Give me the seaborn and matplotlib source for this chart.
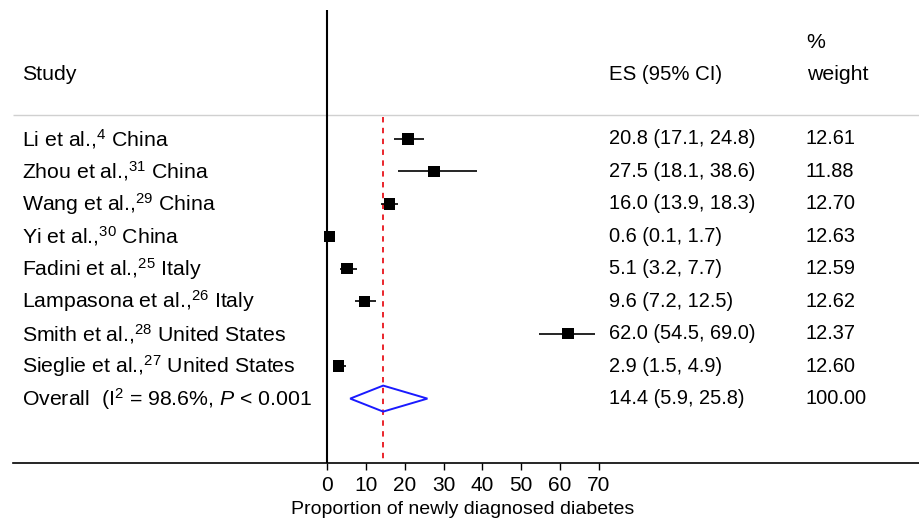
import matplotlib
matplotlib.use("Agg")
import matplotlib.pyplot as plt
import seaborn as sns
import numpy as np
import pandas as pd
from matplotlib.patches import Polygon

# ---- data ----
authors = ["Li et al.,", "Zhou et al.,", "Wang et al.,", "Yi et al.,", "Fadini et al.,",
           "Lampasona et al.,", "Smith et al.,", "Sieglie et al.,"]
refs = ["4", "31", "29", "30", "25", "26", "28", "27"]
countries = ["China", "China", "China", "China", "Italy", "Italy", "United States", "United States"]
es = [20.8, 27.5, 16.0, 0.6, 5.1, 9.6, 62.0, 2.9]
lo = [17.1, 18.1, 13.9, 0.1, 3.2, 7.2, 54.5, 1.5]
hi = [24.8, 38.6, 18.3, 1.7, 7.7, 12.5, 69.0, 4.9]
weights = [12.61, 11.88, 12.70, 12.63, 12.59, 12.62, 12.37, 12.60]
overall_es, overall_lo, overall_hi = 14.4, 5.9, 25.8
overall_weight = "100.00"
overall_label = r"Overall  (I$^{\mathrm{2}}$ = 98.6%, $\mathit{P}$ < 0.001"
xticks = [0, 10, 20, 30, 40, 50, 60, 70]
xlabel = "Proportion of newly diagnosed diabetes"

sns.set_style("white")
plt.rcParams["font.family"] = ["Liberation Sans", "DejaVu Sans"]
plt.rcParams["mathtext.fontset"] = "custom"
plt.rcParams["mathtext.rm"] = "Liberation Sans"
plt.rcParams["mathtext.it"] = "Liberation Sans:italic"
plt.rcParams["mathtext.bf"] = "Liberation Sans:bold"
plt.rcParams["text.color"] = "black"
plt.rcParams["axes.labelcolor"] = "black"
plt.rcParams["xtick.color"] = "black"

FS_L = 15.3   # study labels
FS_N = 14.4   # numeric columns
FS_T = 15.0   # tick labels
FS_X = 14.0   # x label
W, H = 920, 520
fig = plt.figure(figsize=(9.2, 5.2), dpi=100)
left_px, right_px, top_px, bot_px = 13, 920, 10, 463
ax = fig.add_axes([left_px / W, 1 - bot_px / H, (right_px - left_px) / W, (bot_px - top_px) / H])

x0_px, scale = 327.3, 3.88  # px of value 0, px per unit
row0_px, row_h = 139, 32.45
ax.set_xlim((left_px - x0_px) / scale, (right_px - x0_px) / scale)
ax.set_ylim((bot_px - row0_px) / row_h, (top_px - row0_px) / row_h)

def px2x(p):
    return (p - x0_px) / scale

def py2y(p):
    return (p - row0_px) / row_h

rows = np.arange(len(es))
df = pd.DataFrame({"es": es, "lo": lo, "hi": hi, "w": weights, "row": rows})

# CI lines
ax.hlines(df["row"], df["lo"], df["hi"], color="black", lw=1.2, zorder=3)
# squares sized by weight
df["size"] = (np.sqrt(np.array(weights) / 12.6) * 8.2) ** 2
sns.scatterplot(data=df, x="es", y="row", marker="s", size="size", sizes=(df["size"].min(), df["size"].max()),
                color="black", edgecolor="black", linewidth=0, legend=False, ax=ax, zorder=4)

# overall diamond
oy = len(es)
hh = 13 / row_h
diamond = Polygon([(overall_lo, oy), (overall_es, oy - hh), (overall_hi, oy), (overall_es, oy + hh)],
                  closed=True, fill=False, edgecolor="#1a1aff", lw=1.4, zorder=4)
ax.add_patch(diamond)

# reference lines
ax.axvline(0, color="black", lw=1.5, zorder=2)
ax.vlines(overall_es, py2y(117), py2y(bot_px), color="#e8141b", lw=1.3, linestyles=(0, (3, 3)), zorder=2)
ax.hlines(py2y(115), px2x(left_px), px2x(right_px), color="#d0d0d0", lw=1.0, zorder=1)

# headers
ax.text(px2x(22), py2y(75), "Study", fontsize=FS_L, va="center", ha="left")
ax.text(px2x(609), py2y(75), "ES (95% CI)", fontsize=14.7, va="center", ha="left")
ax.text(px2x(806), py2y(43), "%", fontsize=FS_L, va="center", ha="left")
ax.text(px2x(807), py2y(75), "weight", fontsize=FS_L, va="center", ha="left")

for i in range(len(es)):
    ax.text(px2x(22), i, rf"{authors[i]}$^{{\mathrm{{{refs[i]}}}}}$ {countries[i]}",
            fontsize=FS_L, va="center", ha="left")
    ax.text(px2x(609), i, f"{es[i]:.1f} ({lo[i]:.1f}, {hi[i]:.1f})", fontsize=FS_N, va="center", ha="left")
    ax.text(px2x(806), i, f"{weights[i]:.2f}", fontsize=FS_N, va="center", ha="left")
ax.text(px2x(22), oy, overall_label, fontsize=FS_L, va="center", ha="left")
ax.text(px2x(609), oy, f"{overall_es:.1f} ({overall_lo:.1f}, {overall_hi:.1f})", fontsize=FS_N, va="center", ha="left")
ax.text(px2x(806), oy, overall_weight, fontsize=FS_N, va="center", ha="left")

# axes styling
for s in ["top", "right", "left"]:
    ax.spines[s].set_visible(False)
ax.spines["bottom"].set_color("black")
ax.spines["bottom"].set_linewidth(1.2)
ax.set_yticks([])
ax.set_xticks(xticks)
ax.set_xticklabels([str(t) for t in xticks], fontsize=FS_T)
ax.tick_params(axis="x", direction="out", length=5, width=1, color="black", pad=4.5, bottom=True)
ax.set_xlabel(xlabel, fontsize=FS_X, labelpad=0)
ax.xaxis.set_label_coords((x0_px + 35 * scale - left_px) / (right_px - left_px), -(509 - bot_px) / (bot_px - top_px))
ax.xaxis.label.set_va("center")
ax.set_ylabel("")

fig.savefig("out.png", dpi=100)
